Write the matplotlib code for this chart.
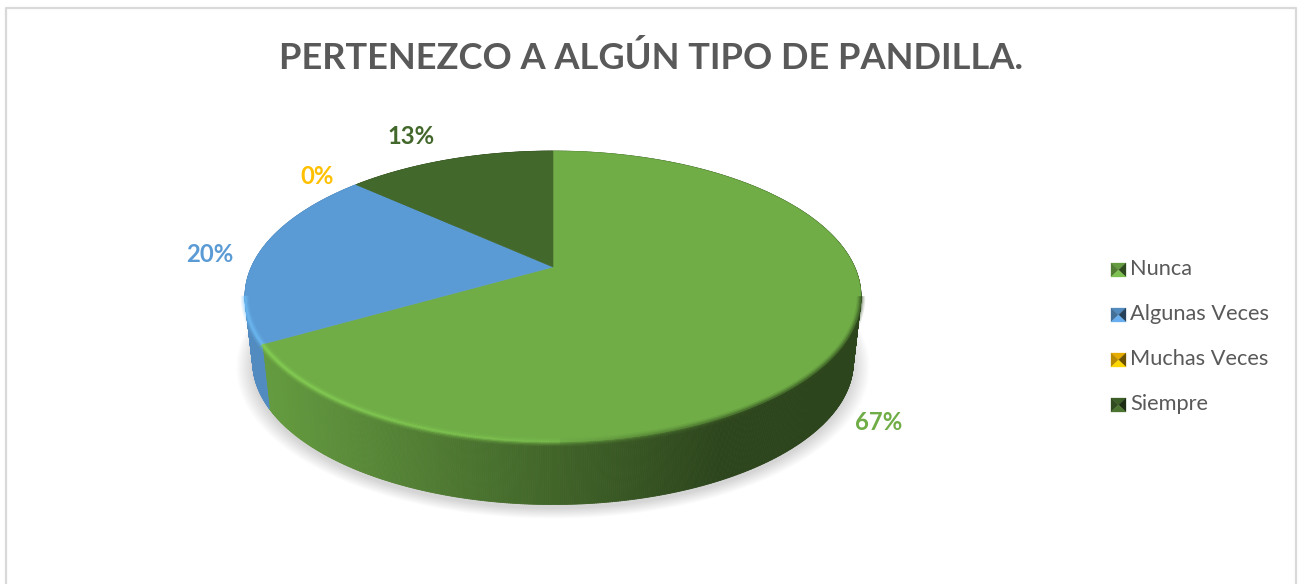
import numpy as np
import matplotlib
matplotlib.use("Agg")
import matplotlib.pyplot as plt
from matplotlib.collections import PolyCollection, LineCollection
from matplotlib.colors import to_rgb
from matplotlib.patches import Polygon

plt.rcParams['font.family'] = ['Lato', 'DejaVu Sans']

title = "PERTENEZCO A ALGÚN TIPO DE PANDILLA."
categories = ["Nunca", "Algunas Veces", "Muchas Veces", "Siempre"]
values = [66.7, 20.0, 0.0, 13.3]
colors = ["#70AD47", "#5B9BD5", "#FFC000", "#43682B"]
label_xy = [(879, 423), (210, 255), (317, 176), (411, 136)]
legend_y = [270, 315, 360, 405]

W, H = 1299, 584
fig = plt.figure(figsize=(W / 100, H / 100), dpi=100)
ax = fig.add_axes([0, 0, 1, 1])
ax.set_xlim(0, W)
ax.set_ylim(H, 0)
ax.axis("off")

# chart frame (bottom edge runs off the picture)
ax.plot([6.5, 6.5, 1296.5, 1296.5], [H + 5, 7.5, 7.5, H + 5], color="#D9D9D9", lw=1.6, zorder=1)

# perspective projection of the disc
CX, AY = 553.0, 267.0
K, A, B = 0.203, 139.5, 301.6


def top(theta):
    u, v = np.sin(theta), np.cos(theta)
    d = 1 + K * v
    return CX + B * u / d, AY - A * v / d


def bottom(theta, grow=0.0, dy=0.0):
    u, v = np.sin(theta), np.cos(theta)
    d = 1 + K * v
    return CX + (B * 0.975 + grow) * u / d, AY + 66 + dy - (A * 0.98 + grow * 0.5) * v / d


# soft shadow
th = np.linspace(0, 2 * np.pi, 360)
for g in np.linspace(16, 0, 14):
    x, y = bottom(th, grow=g, dy=4)
    ax.add_patch(Polygon(np.c_[x, y], closed=True, fc="#000000", ec="none", alpha=0.011, zorder=2))


def shade(base, x):
    """Side-wall colour: light on the left, dark on the right."""
    t = np.clip((x - 262) / (720 - 262), 0, 1)
    f = 0.90 - 0.50 * t
    return tuple(np.array(to_rgb(base)) * f)


# slices
fracs = np.array(values) / sum(values)
edges = np.r_[0, np.cumsum(fracs)] * 2 * np.pi

quads, qcols = [], []
rim_seg, rim_col = [], []
for i, c in enumerate(colors):
    a0, a1 = edges[i], edges[i + 1]
    if a1 <= a0:
        continue
    n = max(int((a1 - a0) * 180), 2)
    ts = np.linspace(a0, a1, n + 1)
    for t0, t1 in zip(ts[:-1], ts[1:]):
        x0, y0 = top(t0); x1, y1 = top(t1)
        x2, y2 = bottom(t1); x3, y3 = bottom(t0)
        quads.append([(x0, y0), (x1, y1), (x2, y2), (x3, y3)])
        qcols.append(shade(c, (x0 + x1) / 2))
        rim_seg.append([(x0, y0), (x1, y1)])
        xm = (x0 + x1) / 2
        s = np.clip((xm - 262) / (760 - 262), 0, 1)
        base = np.array(to_rgb(c))
        light = np.clip(base * 1.28, 0, 1)
        dark = base * 0.45
        rc = light * (1 - s) + base * s if s < 0.6 else base + (dark - base) * (s - 0.6) / 0.4
        rim_col.append(tuple(np.clip(rc, 0, 1)))

ax.add_collection(PolyCollection(quads, facecolors=qcols, edgecolors=qcols, linewidths=0.6, zorder=3))

for i, c in enumerate(colors):
    a0, a1 = edges[i], edges[i + 1]
    if a1 <= a0:
        continue
    ts = np.linspace(a0, a1, 300)
    x, y = top(ts)
    pts = np.r_[[[CX, AY]], np.c_[x, y]]
    ax.add_patch(Polygon(pts, closed=True, fc=c, ec=c, lw=0.4, zorder=4))

# bevel along the front edge of the top face
front = [k for k, s in enumerate(rim_seg) if (s[0][1] + s[1][1]) / 2 > 296]
segs = [rim_seg[k] for k in front]
cols = [rim_col[k] for k in front]
for lw, al in [(6.0, 0.14), (4.0, 0.22), (2.2, 0.45)]:
    ax.add_collection(LineCollection(segs, colors=cols, linewidths=lw, alpha=al, zorder=5))

# title and data labels
ax.text(651, 58, title, fontsize=26.1, fontweight="bold", color="#595959", ha="center", va="center", zorder=6)
for v, c, (lx, ly) in zip(values, colors, label_xy):
    ax.text(lx, ly, f"{round(v)}%", fontsize=17.2, fontweight="bold", color=c, ha="center", va="center", zorder=6)

# legend with bevelled keys
for name, c, ly in zip(categories, colors, legend_y):
    base = np.array(to_rgb(c))
    l, r, t, b = 1111, 1126, ly - 7, ly + 7
    mx, my = (l + r) / 2, (t + b) / 2
    faces = [
        ([(l, t), (r, t), (mx, my)], base * 0.9),
        ([(r, t), (r, b), (mx, my)], base * 0.42),
        ([(l, t), (l, b), (mx, my)], base * 0.72),
        ([(l, b), (r, b), (mx, my)], np.clip(base * 1.12, 0, 1)),
    ]
    for pts, fc in faces:
        ax.add_patch(Polygon(pts, closed=True, fc=tuple(fc), ec=tuple(fc), lw=0.2, zorder=6))
    ax.text(1130.5, ly - 1, name, fontsize=15.7, color="#595959", ha="left", va="center", zorder=6)

fig.savefig("out.png", dpi=100, facecolor="white")
